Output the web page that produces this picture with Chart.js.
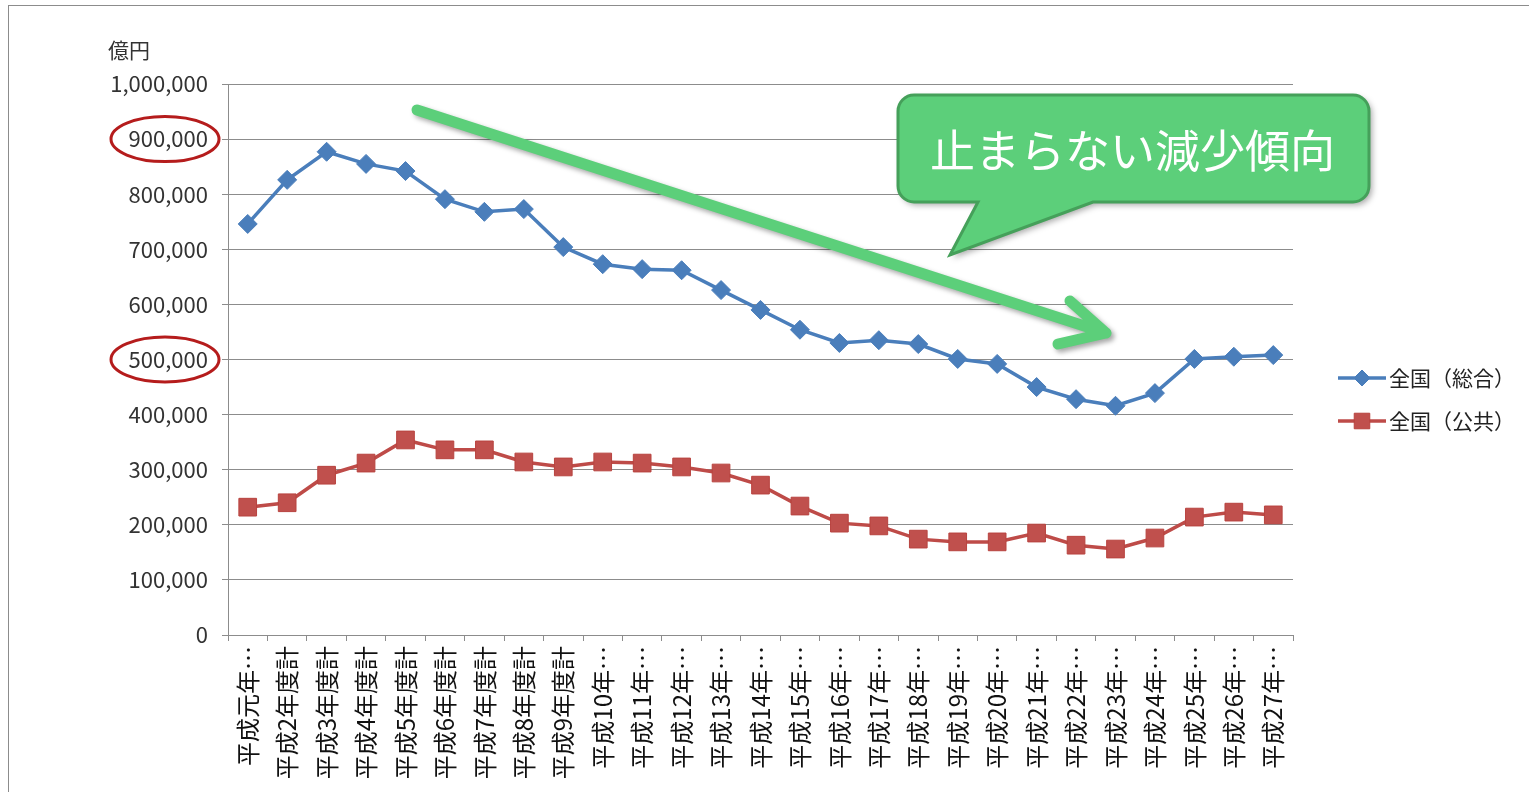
<!DOCTYPE html>
<html lang="ja">
<head>
<meta charset="utf-8">
<title>全国の推移</title>
<script src="https://cdn.jsdelivr.net/npm/chart.js@4.4.1/dist/chart.umd.min.js"></script>
<style>
  html, body { margin: 0; padding: 0; background: #fff; }
  #wrap { position: relative; width: 1529px; height: 792px; overflow: hidden; }
  #frame { position: absolute; left: 8px; top: 5px; width: 1560px; height: 820px; border: 1px solid #8c8c8c; box-sizing: border-box; pointer-events: none; }
  canvas { position: absolute; left: 0; top: 0; }
</style>
</head>
<body>
<div id="wrap">
  <canvas id="chart" width="1529" height="792"></canvas>
  <div id="frame"></div>
</div>
<script>
// 年度（ラベルは元の図の省略表示のまま）
const years = [
    '平成元年…', '平成2年度計', '平成3年度計', '平成4年度計', '平成5年度計',
    '平成6年度計', '平成7年度計', '平成8年度計', '平成9年度計', '平成10年…',
    '平成11年…', '平成12年…', '平成13年…', '平成14年…', '平成15年…',
    '平成16年…', '平成17年…', '平成18年…', '平成19年…', '平成20年…',
    '平成21年…', '平成22年…', '平成23年…', '平成24年…', '平成25年…',
    '平成26年…', '平成27年…'
];

// 全国（総合）億円
const sogo = [
    746000, 826000, 877000, 855000, 842000, 791000, 768000, 773000, 704000, 673000,
    664000, 662000, 626000, 590000, 554000, 530000, 535000, 528000, 501000, 492000,
    450000, 428000, 416000, 439000, 501000, 505000, 508000
];

// 全国（公共）億円
const kokyo = [
    232000, 240000, 290000, 312000, 354000, 336000, 336000, 314000, 305000, 314000,
    312000, 305000, 294000, 272000, 234000, 203000, 198000, 174000, 169000, 169000,
    185000, 163000, 156000, 176000, 214000, 223000, 218000
];

const seriesNames = ['全国（総合）', '全国（公共）'];
const unitLabel = '億円';
const calloutText = '止まらない減少傾向';
const markedTicks = [900000, 500000];

const JP = '"Noto Sans CJK JP", "Noto Sans", sans-serif';
const BLUE = '#4A7EBB';
const RED = '#BE4B48';

// 注釈（矢印・吹き出し・丸囲み）と凡例
const annotations = {
    id: 'annotations',
    afterDraw(chart) {
        const ctx = chart.ctx;
        const yScale = chart.scales.y;

        // 単位
        ctx.save();
        ctx.font = `21px ${JP}`;
        ctx.fillStyle = '#333';
        ctx.textAlign = 'left';
        ctx.textBaseline = 'middle';
        ctx.fillText(unitLabel, 108, 50);
        ctx.restore();

        // 目盛りの丸囲み
        ctx.save();
        ctx.strokeStyle = '#B51C1C';
        ctx.lineWidth = 3;
        markedTicks.forEach(v => {
            const cy = yScale.getPixelForValue(v);
            ctx.beginPath();
            ctx.ellipse(165, cy, 54, 22.5, 0, 0, Math.PI * 2);
            ctx.stroke();
        });
        ctx.restore();

        // 矢印
        ctx.save();
        ctx.strokeStyle = '#5CCF7A';
        ctx.lineWidth = 11;
        ctx.lineCap = 'round';
        ctx.lineJoin = 'round';
        ctx.shadowColor = 'rgba(0,0,0,0.35)';
        ctx.shadowBlur = 5;
        ctx.shadowOffsetX = 3;
        ctx.shadowOffsetY = 3;
        ctx.beginPath();
        ctx.moveTo(417, 110);
        ctx.lineTo(1106, 333);
        ctx.moveTo(1070, 301);
        ctx.lineTo(1106, 333);
        ctx.lineTo(1058, 344);
        ctx.stroke();
        ctx.restore();

        // 吹き出し
        const L = 898, T = 95, R = 1369, B = 202, r = 16;
        ctx.save();
        ctx.beginPath();
        ctx.moveTo(L + r, T);
        ctx.arcTo(R, T, R, B, r);
        ctx.arcTo(R, B, L, B, r);
        ctx.lineTo(1093, B);
        ctx.lineTo(950, 255);
        ctx.lineTo(978, B);
        ctx.arcTo(L, B, L, T, r);
        ctx.arcTo(L, T, R, T, r);
        ctx.closePath();
        ctx.shadowColor = 'rgba(0,0,0,0.35)';
        ctx.shadowBlur = 6;
        ctx.shadowOffsetX = 3;
        ctx.shadowOffsetY = 3;
        ctx.fillStyle = '#5CCF7A';
        ctx.fill();
        ctx.shadowColor = 'transparent';
        ctx.strokeStyle = '#45A05A';
        ctx.lineWidth = 3;
        ctx.stroke();
        ctx.font = `45px ${JP}`;
        ctx.fillStyle = '#fff';
        ctx.textAlign = 'center';
        ctx.textBaseline = 'middle';
        ctx.fillText(calloutText, (L + R) / 2 - 1, 151);
        ctx.restore();

        // 凡例
        chart.data.datasets.forEach((ds, i) => {
            const y = 378 + i * 43;
            ctx.save();
            ctx.strokeStyle = ds.borderColor;
            ctx.lineWidth = ds.borderWidth;
            ctx.beginPath();
            ctx.moveTo(1338, y);
            ctx.lineTo(1386, y);
            ctx.stroke();
            ctx.fillStyle = ds.pointBackgroundColor;
            ctx.strokeStyle = ds.pointBorderColor;
            ctx.lineWidth = 1;
            Chart.helpers.drawPoint(ctx, {
                pointStyle: ds.pointStyle,
                radius: ds.pointStyle === 'rect' ? 11 : 8,
                borderWidth: 1,
                rotation: 0
            }, 1362, y);
            ctx.font = `21px ${JP}`;
            ctx.fillStyle = '#222';
            ctx.textAlign = 'left';
            ctx.textBaseline = 'middle';
            ctx.fillText(ds.label, 1389, y);
            ctx.restore();
        });
    }
};

new Chart(document.getElementById('chart'), {
    type: 'line',
    data: {
        labels: years,
        datasets: [
            {
                label: seriesNames[0],
                data: sogo,
                borderColor: BLUE,
                borderWidth: 3.5,
                pointStyle: 'rectRot',
                pointRadius: 9.5,
                pointBackgroundColor: BLUE,
                pointBorderColor: BLUE,
                pointBorderWidth: 1,
                tension: 0
            },
            {
                label: seriesNames[1],
                data: kokyo,
                borderColor: RED,
                borderWidth: 3.5,
                pointStyle: 'rect',
                pointRadius: 12.5,
                pointBackgroundColor: '#C0504D',
                pointBorderColor: '#B8433F',
                pointBorderWidth: 1,
                tension: 0
            }
        ]
    },
    options: {
        responsive: false,
        animation: false,
        layout: { padding: { top: 84, right: 236, bottom: 0, left: 0 } },
        plugins: {
            legend: { display: false },
            tooltip: { enabled: false }
        },
        scales: {
            x: {
                offset: true,
                grid: {
                    offset: true,
                    drawOnChartArea: false,
                    drawTicks: true,
                    tickLength: 6,
                    color: '#8c8c8c'
                },
                border: { color: '#8c8c8c', width: 1 },
                ticks: {
                    autoSkip: false,
                    minRotation: 90,
                    maxRotation: 90,
                    padding: 5,
                    color: '#111',
                    font: { family: JP, size: 24 }
                },
                afterFit(scale) { scale.height = 157; }
            },
            y: {
                min: 0,
                max: 1000000,
                grid: {
                    color: '#8c8c8c',
                    lineWidth: 1,
                    tickLength: 6
                },
                border: { color: '#8c8c8c', width: 1 },
                ticks: {
                    stepSize: 100000,
                    padding: 14,
                    color: '#333',
                    font: { family: JP, size: 22 },
                    callback: v => v.toLocaleString('en-US')
                },
                afterFit(scale) { scale.width = 228; }
            }
        }
    },
    plugins: [annotations]
});
</script>
</body>
</html>
